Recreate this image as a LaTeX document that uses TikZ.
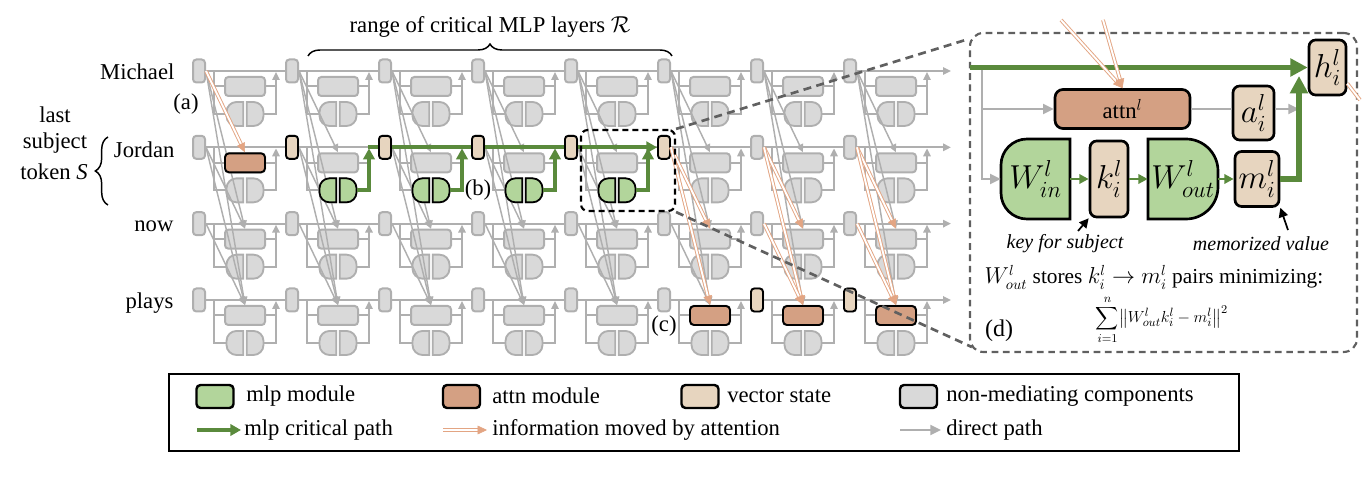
\documentclass[tikz,border=0pt]{standalone}
\usepackage{amsmath}
\usepackage{exscale}
\usepackage{fontspec}
\setmainfont{Liberation Serif}
\usetikzlibrary{arrows.meta,calc,decorations.pathreplacing}
\definecolor{cGrayFill}{HTML}{D9D9D9}
\definecolor{cGray}{HTML}{AFAFAF}
\definecolor{cMlp}{HTML}{B2D59B}
\definecolor{cAttn}{HTML}{D4A083}
\definecolor{cVec}{HTML}{E7D5BF}
\definecolor{cGreen}{HTML}{5A8A3C}
\definecolor{cOrange}{HTML}{E3A583}
\definecolor{cDash}{HTML}{606060}
% half of an mlp: style, x1, y1, x2, y2, radius (pixel coordinates, y downward)
\newcommand\lhalf[6]{\draw[#1] ({#4},{#3}) -- ({#2+#6},{#3}) .. controls ({#2+0.448*#6},{#3}) and ({#2},{#3+0.448*#6}) .. ({#2},{#3+#6}) -- ({#2},{#5-#6}) .. controls ({#2},{#5-0.448*#6}) and ({#2+0.448*#6},{#5}) .. ({#2+#6},{#5}) -- ({#4},{#5}) -- cycle;}
\newcommand\rhalf[6]{\draw[#1] ({#2},{#3}) -- ({#4-#6},{#3}) .. controls ({#4-0.448*#6},{#3}) and ({#4},{#3+0.448*#6}) .. ({#4},{#3+#6}) -- ({#4},{#5-#6}) .. controls ({#4},{#5-0.448*#6}) and ({#4-0.448*#6},{#5}) .. ({#4-#6},{#5}) -- ({#2},{#5}) -- cycle;}
\newcommand\oarrow[2]{\draw[oline,shorten >=6pt] (#1) -- (#2); \draw[otipline] ($(#2)!7pt!(#1)$) -- (#2);}
\tikzset{
  graybox/.style={draw=cGray, fill=cGrayFill, line width=1.5pt, rounded corners=2.5pt, inner sep=0pt},
  statebox/.style={graybox, minimum width=9pt, minimum height=17.25pt},
  attnsmall/.style={graybox, minimum width=30pt, minimum height=14.25pt},
  hlbox/.style={draw=black, line width=1.4pt, inner sep=0pt},
  vstate/.style={hlbox, fill=cVec, rounded corners=2.5pt, minimum width=9pt, minimum height=17.25pt},
  attnhl/.style={hlbox, fill=cAttn, rounded corners=3pt, minimum width=30pt, minimum height=14.25pt},
  mlpslot/.style={inner sep=0pt, minimum width=28.5pt, minimum height=18pt},
  grayhalf/.style={draw=cGray, fill=cGrayFill, line width=1.4pt},
  greenhalf/.style={draw=black, fill=cMlp, line width=1.3pt},
  pmlp/.style={draw=black, fill=cMlp, line width=2pt},
  gl/.style={draw=cGray, line width=1.5pt},
  gd/.style={draw=cGray, line width=1.1pt},
  gtip/.style={-{Triangle[length=6pt,width=5.5pt]}},
  ptip/.style={-{Triangle[length=8pt,width=7.5pt]}},
  greenpath/.style={draw=cGreen, line width=3pt},
  greentip/.style={-{Triangle[length=8pt,width=8.5pt]}},
  gthick/.style={draw=cGreen, line width=4pt},
  bigtip/.style={-{Triangle[length=13pt,width=13pt]}},
  gmid/.style={draw=cGreen, line width=2pt, -{Triangle[length=7pt,width=7pt]}},
  blk/.style={draw=black, line width=1.3pt, -{Triangle[length=7pt,width=7pt]}},
  oline/.style={draw=cOrange, double=white, line width=0.7pt, double distance=1.4pt},
  otipline/.style={draw=cOrange, fill=cOrange, line width=0.4pt, -{Triangle[length=7pt,width=6.5pt]}},
  zoomframe/.style={draw=black, line width=1.6pt, dash pattern=on 4.5pt off 3pt, rounded corners=5pt, minimum width=70.5pt, minimum height=60.75pt, inner sep=0pt},
  panelframe/.style={draw=cDash, fill=white, line width=1.6pt, dash pattern=on 5pt off 3.5pt, rounded corners=10pt, minimum width=290.25pt, minimum height=239.25pt, inner sep=0pt},
  connline/.style={draw=cDash, line width=2pt, dash pattern=on 6pt off 4pt},
  pvec/.style={draw=black, line width=2pt, fill=cVec, rounded corners=5pt, inner sep=0pt, font=\fontsize{23}{27}\selectfont},
  pattn/.style={draw=black, line width=2pt, fill=cAttn, rounded corners=6pt, inner sep=0pt},
  lbl/.style={inner sep=1pt, font=\fontsize{17}{20}\selectfont},
  legtext/.style={inner sep=0pt, anchor=west, font=\fontsize{17}{20}\selectfont},
  legbox/.style={draw=black, line width=1.8pt, rounded corners=3pt, minimum width=27.75pt, minimum height=17.25pt, inner sep=0pt},
  bracestyle/.style={draw=black, line width=1.1pt, decorate}
}
\begin{document}
\begin{tikzpicture}[x=0.75pt,y=-0.75pt]
\useasboundingbox (0,0) rectangle (1372,484);

% ---------- gray grid: nodes ----------
\foreach \r in {0,...,3}{
  \foreach \c in {0,...,7}{
    \pgfmathsetmacro\X{199+93*\c}
    \pgfmathsetmacro\Y{71+76.33*\r}
    \node[statebox] (s-\r-\c) at (\X,\Y) {};
    \node[attnsmall] (a-\r-\c) at ({\X+46},{\Y+15.5}) {};
    \node[mlpslot] (m-\r-\c) at ({\X+46},{\Y+43}) {};
    \lhalf{grayhalf}{\X+27.5}{\Y+31}{\X+44.3}{\Y+55}{10}
    \rhalf{grayhalf}{\X+47.7}{\Y+31}{\X+64.5}{\Y+55}{10}
  }
}
% ---------- gray grid: cell lines ----------
\foreach \r in {0,...,3}{
  \foreach \c in {0,...,7}{
    \pgfmathsetmacro\X{199+93*\c}
    \pgfmathsetmacro\Y{71+76.33*\r}
    \draw[gl] ({\X+15},{\Y}) |- (m-\r-\c.west);
    \draw[gl] ({\X+15},{\Y+15.5}) -- (a-\r-\c.west);
    \draw[gl] (a-\r-\c.east) -- ({\X+77},{\Y+15.5});
    \draw[gl,gtip] (m-\r-\c.east) -| ({\X+77},{\Y+1});
  }
  \foreach \c [evaluate=\c as \n using int(\c+1)] in {0,...,6}{
    \draw[gl] (s-\r-\c.east) -- (s-\r-\n.west);
  }
  \pgfmathsetmacro\Y{71+76.33*\r}
  \coordinate (end-\r) at (951,\Y);
  \draw[gl,gtip] (s-\r-7.east) -- (end-\r);
}
% ---------- gray attention reads ----------
\foreach \c in {0,...,7}{
  \foreach \r/\q in {0/1,0/2,0/3,1/2,1/3,2/3}{
    \pgfmathtruncatemacro\skp{((\c==0 && \r==0 && \q==1) || (\c==5 && \r==1) || (\c>5 && \r>0)) ? 1 : 0}
    \ifnum\skp=0 \draw[gd,gtip] (s-\r-\c.east) -- (a-\q-\c.north);\fi
  }
}
% ---------- highlighted components ----------
\node[attnhl] (ha-1-0) at (a-1-0) {};
\node[attnhl] (ha-3-5) at (a-3-5) {};
\node[attnhl] (ha-3-6) at (a-3-6) {};
\node[attnhl] (ha-3-7) at (a-3-7) {};
\foreach \c in {1,...,5}{\node[vstate] (hs-1-\c) at (s-1-\c) {};}
\node[vstate] (hs-3-6) at (s-3-6) {};
\node[vstate] (hs-3-7) at (s-3-7) {};
\foreach \c in {1,...,4}{
  \pgfmathsetmacro\X{199+93*\c}
  \lhalf{greenhalf}{\X+27.5}{178.33}{\X+44.3}{202.33}{10}
  \rhalf{greenhalf}{\X+47.7}{178.33}{\X+64.5}{202.33}{10}
  \draw[greenpath,greentip] (m-1-\c.east) -| ({\X+77},{148.6});
}
\coordinate (gstart) at (367.5,147.33);
\draw[greenpath] (gstart) -- (hs-1-2.west);
\draw[greenpath] (hs-1-2.east) -- (hs-1-3.west);
\draw[greenpath] (hs-1-3.east) -- (hs-1-4.west);
\draw[greenpath,greentip] (hs-1-4.east) -- (hs-1-5.west);
% ---------- attention moving information ----------
\oarrow{s-0-0.east}{ha-1-0.north}
\oarrow{hs-1-5.east}{a-2-5.north}
\oarrow{hs-1-5.east}{ha-3-5.north}
\oarrow{s-1-6.east}{a-2-6.north}
\oarrow{s-1-6.east}{ha-3-6.north}
\oarrow{s-2-6.east}{ha-3-6.north}
\oarrow{s-1-7.east}{a-2-7.north}
\oarrow{s-1-7.east}{ha-3-7.north}
\oarrow{s-2-7.east}{ha-3-7.north}

% ---------- labels of the grid ----------
\node[lbl, anchor=east] (tMichael) at (176,72) {Michael};
\node[lbl, anchor=east] (tJordan) at (176,150) {Jordan};
\node[lbl, anchor=east] (tnow) at (175,226) {now};
\node[lbl, anchor=east] (tplays) at (175,303) {plays};
\node[lbl] (la) at (186,104) {(a)};
\node[lbl] (lb) at (478,190) {(b)};
\node[lbl] (lc) at (664,326) {(c)};
\node[lbl] (tlast) at (55,115) {last};
\node[lbl] (tsubject) at (55,143) {subject};
\node[lbl] (ttoken) at (54,172) {token \textit{S}};
\coordinate (lb1) at (108,205);
\coordinate (lb2) at (108,137);
\draw[bracestyle, decoration={brace, amplitude=9.5pt}] (lb1) -- (lb2);
\coordinate (tb1) at (308,56);
\coordinate (tb2) at (672,56);
\draw[bracestyle, decoration={brace, amplitude=9pt}] (tb1) -- (tb2);
\node[lbl] (trange) at (490,27) {range of critical MLP layers $\mathcal{R}$};

% ---------- zoom frame and panel ----------
\node[zoomframe] (zbox) at (628,170.5) {};
\node[panelframe] (panel) at (1163.5,192.5) {};
\draw[connline] (zbox.north east) -- ($(panel.north west)+(0,7)$);
\draw[connline] (zbox.south east) -- ($(panel.south west)+(3,-6)$);

% ---------- panel (d) ----------
\lhalf{pmlp}{1001}{139}{1070}{219}{26}
\rhalf{pmlp}{1148}{139}{1218}{219}{32}
\node[inner sep=0pt, minimum width=51.75pt, minimum height=60pt, font=\fontsize{24}{28}\selectfont] (Win) at (1035.5,179) {$W^l_{in}$};
\node[inner sep=0pt, minimum width=52.5pt, minimum height=60pt, font=\fontsize{23}{27}\selectfont] (Wout) at (1183,179) {$W^l_{out}$};
\node[pvec, minimum width=28.5pt, minimum height=57pt] (k) at (1109,179) {$k^l_i$};
\node[pvec, minimum width=33pt, minimum height=41.25pt] (m) at (1257,179) {$m^l_i$};
\node[pvec, minimum width=30.75pt, minimum height=40.5pt] (al) at (1253.5,113) {$a^l_i$};
\node[pvec, minimum width=27.75pt, minimum height=41.25pt] (h) at (1327.5,67.5) {$h^l_i$};
\node[pattn, minimum width=101.25pt, minimum height=29.25pt, font=\fontsize{17}{20}\selectfont] (attnl) at (1122.5,109) {attn$^l$};

\coordinate (pb) at (982,67);
\draw[gl,ptip] (pb) |- (Win.west);
\draw[gl,ptip] (pb |- attnl.west) -- (attnl.west);
\coordinate (gv) at (1299,179);
\draw[gl] (attnl.east) -- (attnl.east -| al.west);
\draw[gl,ptip] (attnl.east -| al.east) -- (attnl.east -| gv);
\draw[gmid] (Win.east) -- (k.west);
\draw[gmid] (k.east) -- (Wout.west);
\draw[gmid] (Wout.east) -- (m.west);
\coordinate (gtop) at (1299,76);
\draw[gthick,bigtip] (m.east) -| (gtop);
\coordinate (pin) at (970,67.5);
\draw[gthick,bigtip] (pin) -- (h.west);
\coordinate (o1) at (1061,20);
\coordinate (o2) at (1103,20);
\oarrow{o1}{attnl.north}
\oarrow{o2}{attnl.north}
\coordinate (o3) at (1360,100);
\draw[oline] ($(h.east)+(0,16)$) -- (o3);

\coordinate (kk) at (1078,231);
\draw[blk] (kk) -- (k.south west);
\coordinate (mm) at (1288,230);
\draw[blk] (mm) -- (m.south east);
\node[inner sep=0pt, font=\fontsize{15}{17}\selectfont\itshape] (keylbl) at (1065,244) {key for subject};
\node[inner sep=0pt, font=\fontsize{15}{17}\selectfont\itshape] (memlbl) at (1261,244) {memorized value};
\node[inner sep=0pt, font=\fontsize{16}{19}\selectfont] (stores) at (1154,277) {$W^l_{out}$ stores $k^l_i\rightarrow m^l_i$ pairs minimizing:};
\node[inner sep=0pt, font=\fontsize{13}{16}\selectfont] (sumf) at (1162,320) {$\displaystyle\sum_{i=1}^{n}\bigl\|W^l_{out}k^l_i-m^l_i\bigr\|^2$};
\node[lbl, font=\fontsize{18}{21}\selectfont] (ld) at (999,331) {(d)};

% ---------- legend ----------
\node[draw=black, line width=1.3pt, minimum width=802.5pt, minimum height=57.75pt, inner sep=0pt] (legend) at (704,412.5) {};
\node[legbox, fill=cMlp] (lg1) at (215,396.5) {};
\node[legtext] (lt1) at (246,396) {mlp module};
\node[legbox, fill=cAttn] (lg2) at (461.5,396.5) {};
\node[legtext] (lt2) at (492,396) {attn module};
\node[legbox, fill=cVec] (lg3) at (700,396.5) {};
\node[legtext] (lt3) at (727,396) {vector state};
\node[legbox, fill=cGrayFill] (lg4) at (918.5,396.5) {};
\node[legtext] (lt4) at (946,396) {non-mediating components};
\coordinate (la1s) at (197,430);
\coordinate (la1e) at (241,430);
\draw[greenpath,greentip] (la1s) -- (la1e);
\node[legtext] (lt5) at (244,430) {mlp critical path};
\coordinate (la2s) at (443,430);
\coordinate (la2e) at (487,430);
\oarrow{la2s}{la2e}
\node[legtext] (lt6) at (492,430) {information moved by attention};
\coordinate (la3s) at (900,430);
\coordinate (la3e) at (941,430);
\draw[gl,ptip] (la3s) -- (la3e);
\node[legtext] (lt7) at (946,430) {direct path};
\end{tikzpicture}
\end{document}
